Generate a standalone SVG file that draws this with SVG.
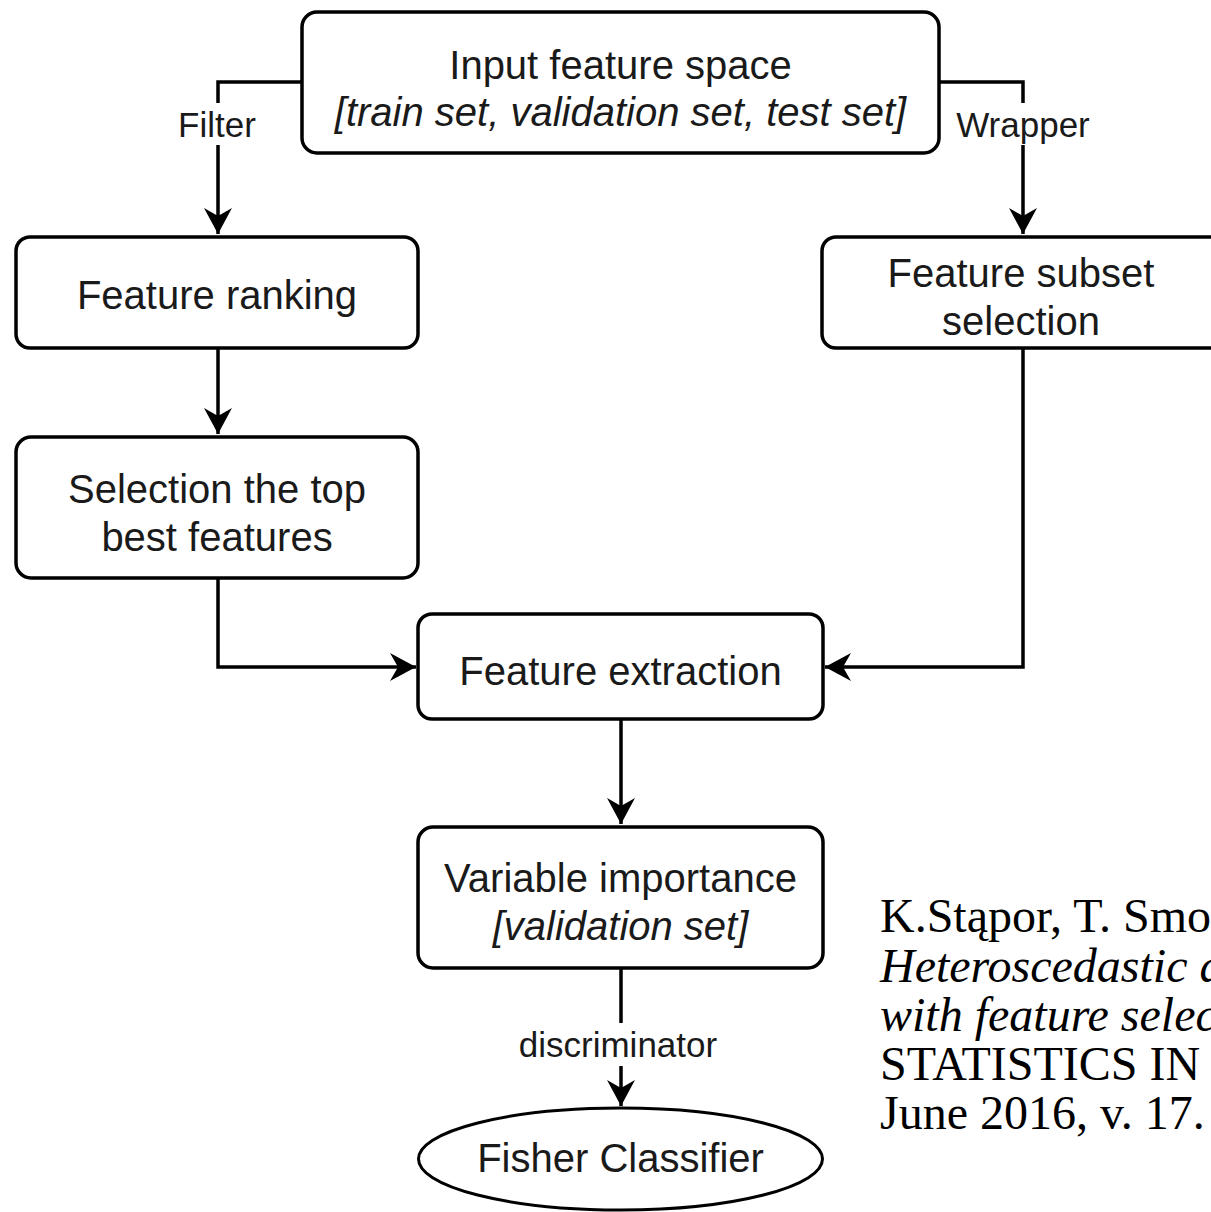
<svg xmlns="http://www.w3.org/2000/svg" width="1211" height="1212" viewBox="0 0 1211 1212">
<style>
.box{fill:#fff;stroke:#000;stroke-width:3.5}
.ell{fill:#fff;stroke:#000;stroke-width:3}
.t{font-family:"Liberation Sans",Arial,sans-serif;font-size:40px;fill:#1a1a1a;text-anchor:middle}
.i{font-style:italic}
.lbl{font-family:"Liberation Sans",Arial,sans-serif;font-size:35px;fill:#1a1a1a;text-anchor:middle}
.edge{fill:none;stroke:#000;stroke-width:3.5}
.cite{font-family:"Liberation Serif","Times New Roman",serif;font-size:48px;fill:#000}
</style>
<defs>
<marker id="arr" markerUnits="userSpaceOnUse" markerWidth="30" markerHeight="30" refX="26" refY="15" orient="auto" viewBox="0 0 30 30">
<path d="M26,15 L0,1 L8,15 L0,29 Z" fill="#000"/>
</marker>
</defs>
<rect width="1211" height="1212" fill="#fff"/>
<g id="connectors">
<path class="edge" d="M302,82 H218 V234" marker-end="url(#arr)"/>
<path class="edge" d="M939,82 H1023 V234" marker-end="url(#arr)"/>
<path class="edge" d="M218,348 V434" marker-end="url(#arr)"/>
<path class="edge" d="M218,578 V667 H416" marker-end="url(#arr)"/>
<path class="edge" d="M1023,348 V667 H825" marker-end="url(#arr)"/>
<path class="edge" d="M621,719 V824" marker-end="url(#arr)"/>
<path class="edge" d="M621,968 V1106" marker-end="url(#arr)"/>
<rect x="175" y="103" width="86" height="42" fill="#fff"/>
<text class="lbl" x="217" y="137">Filter</text>
<rect x="952" y="103" width="142" height="42" fill="#fff"/>
<text class="lbl" x="1023" y="137">Wrapper</text>
<rect x="512" y="1023" width="212" height="43" fill="#fff"/>
<text class="lbl" x="618" y="1057">discriminator</text>
</g>
<g id="input">
<rect class="box" x="302" y="12" width="637" height="141" rx="15"/>
<text class="t" x="620.5" y="79">Input feature space</text>
<text class="t i" x="620.5" y="126">[train set, validation set, test set]</text>
</g>
<g id="ranking">
<rect class="box" x="16" y="237" width="402" height="111" rx="14"/>
<text class="t" x="217" y="309">Feature ranking</text>
</g>
<g id="subset">
<rect class="box" x="822" y="237" width="404" height="111" rx="14"/>
<text class="t" x="1021" y="287">Feature subset</text>
<text class="t" x="1021" y="335">selection</text>
</g>
<g id="topbest">
<rect class="box" x="16" y="437" width="402" height="141" rx="15"/>
<text class="t" x="217" y="503">Selection the top</text>
<text class="t" x="217" y="551">best features</text>
</g>
<g id="extraction">
<rect class="box" x="418" y="614" width="405" height="105" rx="14"/>
<text class="t" x="620.5" y="685">Feature extraction</text>
</g>
<g id="importance">
<rect class="box" x="418" y="827" width="405" height="141" rx="15"/>
<text class="t" x="620.5" y="892">Variable importance</text>
<text class="t i" x="620.5" y="940">[validation set]</text>
</g>
<g id="fisher">
<ellipse class="ell" cx="620.5" cy="1159" rx="202" ry="51"/>
<text class="t" x="620.5" y="1172">Fisher Classifier</text>
</g>
<g id="citation">
<text class="cite" x="880" y="932">K.Stąpor, T. Smo</text>
<text class="cite" x="880" y="982" font-style="italic">Heteroscedastic d</text>
<text class="cite" x="880" y="1031" font-style="italic">with feature selec</text>
<text class="cite" x="880" y="1080">STATISTICS IN</text>
<text class="cite" x="880" y="1129">June 2016, v. 17.</text>
</g>
</svg>
